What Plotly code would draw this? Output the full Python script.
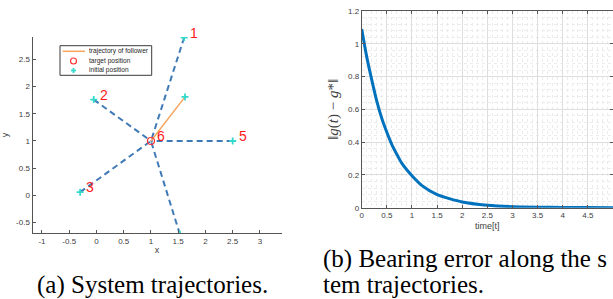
import plotly.graph_objects as go

W, H = 613, 299

# ---- data: left panel (system trajectories)
agent_ids = ["1", "2", "3", "4", "5"]
agent_x = [1.61, -0.05, -0.30, 1.53, 2.50]
agent_y = [2.90, 1.76, 0.06, -0.71, 1.00]
target_id = "6"
target_x = [1.0]
target_y = [1.0]
follower_x = [1.625, 1.0]
follower_y = [1.81, 1.0]

# ---- data: right panel (bearing error)
time_t = [0, 0.1, 0.2, 0.3, 0.4, 0.5, 0.6, 0.7, 0.8, 1.0, 1.2, 1.5, 2.0, 2.5, 3.0, 3.5, 4.0, 4.5, 5.0]
bearing_err = [1.09, 0.92, 0.78, 0.65, 0.545, 0.46, 0.385, 0.325, 0.27, 0.195, 0.135, 0.08, 0.035, 0.015, 0.006, 0.003, 0.0015, 0.0008, 0.0004]

left_xticks = [-1, -0.5, 0, 0.5, 1, 1.5, 2, 2.5, 3]
left_yticks = [-0.5, 0, 0.5, 1, 1.5, 2, 2.5]
right_xticks = [0, 0.5, 1, 1.5, 2, 2.5, 3, 3.5, 4, 4.5, 5]
right_yticks = [0, 0.2, 0.4, 0.6, 0.8, 1, 1.2]

def lab(v):
    return "%g" % v

fig = go.Figure()

# dashed agent trajectories
dx, dy = [], []
for ax_, ay_ in zip(agent_x, agent_y):
    dx += [ax_, target_x[0], None]
    dy += [ay_, target_y[0], None]
fig.add_trace(go.Scatter(x=dx, y=dy, mode="lines", xaxis="x", yaxis="y",
                         line=dict(color="#3f7ab6", width=2, dash="6px,4px"),
                         showlegend=False, hoverinfo="skip"))
# follower trajectory
fig.add_trace(go.Scatter(x=follower_x, y=follower_y, mode="lines", xaxis="x", yaxis="y",
                         line=dict(color="#f5a55e", width=1.5), showlegend=False))
# target
fig.add_trace(go.Scatter(x=target_x, y=target_y, mode="markers", xaxis="x", yaxis="y",
                         marker=dict(symbol="circle-open", color="#ff3030", size=7, line=dict(width=1.2)),
                         showlegend=False))
# initial positions
fig.add_trace(go.Scatter(x=agent_x + [follower_x[0]], y=agent_y + [follower_y[0]],
                         mode="markers", xaxis="x", yaxis="y",
                         marker=dict(symbol="cross-thin-open", color="#33d9cc", size=5,
                                     line=dict(width=1.8, color="#33d9cc")),
                         showlegend=False))

# bearing error curve
fig.add_trace(go.Scatter(x=time_t, y=bearing_err, mode="lines", xaxis="x2", yaxis="y2",
                         line=dict(color="#0072BD", width=3, shape="spline", smoothing=0.6),
                         showlegend=False))

annotations = []
for i, px, py in zip(agent_ids + [target_id], agent_x + target_x, agent_y + target_y):
    annotations.append(dict(x=px, y=py, xref="x", yref="y", text=i, showarrow=False,
                            xanchor="left", yanchor="middle", xshift=4, yshift=5,
                            font=dict(family="Liberation Sans, Arial", size=14, color="#ff1a1a")))

# captions
capfont = dict(family="Liberation Serif, Times New Roman", size=25, color="black")
annotations.append(dict(x=35 / W, y=1 - 293 / H, xref="paper", yref="paper", xanchor="left",
                        yanchor="bottom", yshift=-8, showarrow=False,
                        text="(a) System trajectories.", font=capfont))
annotations.append(dict(x=321 / W, y=1 - 267 / H, xref="paper", yref="paper", xanchor="left",
                        yanchor="bottom", yshift=-8, showarrow=False,
                        text="(b) Bearing error along the s", font=capfont))
annotations.append(dict(x=321 / W, y=1 - 292 / H, xref="paper", yref="paper", xanchor="left",
                        yanchor="bottom", yshift=-8, showarrow=False,
                        text="tem trajectories.", font=capfont))

# manual legend
lx0, lx1, ly0, ly1 = 60, 151.7, 45.7, 75.3
shapes = [dict(type="rect", xref="paper", yref="paper", x0=lx0 / W, x1=lx1 / W,
               y0=1 - ly1 / H, y1=1 - ly0 / H, line=dict(color="#3a3a3a", width=1),
               fillcolor="white", layer="above")]
rows = [51.3, 61.0, 70.5]
shapes.append(dict(type="line", xref="paper", yref="paper", x0=62.7 / W, x1=85 / W,
                   y0=1 - rows[0] / H, y1=1 - rows[0] / H, line=dict(color="#f5a55e", width=1.5),
                   layer="above"))
shapes.append(dict(type="circle", xref="paper", yref="paper", x0=70.5 / W, x1=76.5 / W,
                   y0=1 - (rows[1] + 3) / H, y1=1 - (rows[1] - 3) / H,
                   line=dict(color="#ff3030", width=1.2), layer="above"))
shapes.append(dict(type="line", xref="paper", yref="paper", x0=71 / W, x1=76 / W,
                   y0=1 - rows[2] / H, y1=1 - rows[2] / H, line=dict(color="#33d9cc", width=1.8),
                   layer="above"))
shapes.append(dict(type="line", xref="paper", yref="paper", x0=73.5 / W, x1=73.5 / W,
                   y0=1 - (rows[2] + 2.5) / H, y1=1 - (rows[2] - 2.5) / H,
                   line=dict(color="#33d9cc", width=1.8), layer="above"))
for r, t in zip(rows, ["trajectory of follower", "target position", "initial position"]):
    annotations.append(dict(x=87 / W, y=1 - r / H, xref="paper", yref="paper", xanchor="left",
                            yanchor="middle", showarrow=False, text=t,
                            font=dict(family="Liberation Sans, Arial", size=6.6, color="#262626")))

tickfont = dict(family="Liberation Sans, Arial", size=8, color="#404040")
axcol = "#555555"

fig.update_layout(
    width=W, height=H,
    margin=dict(l=0, r=0, t=0, b=0, autoexpand=False),
    paper_bgcolor="white", plot_bgcolor="white",
    showlegend=False,
    annotations=annotations,
    shapes=shapes,
    xaxis=dict(domain=[32.5 / W, 281.7 / W], range=[-1.174, 3.4], anchor="y", automargin=False,
               tickvals=left_xticks, ticktext=[lab(v) for v in left_xticks],
               ticks="inside", ticklen=3, tickcolor=axcol, showline=True, linecolor=axcol,
               linewidth=1, showgrid=False, zeroline=False, tickfont=tickfont,
               title=dict(text="x", font=dict(family="Liberation Sans, Arial", size=9, color="#404040"),
                          standoff=2)),
    yaxis=dict(domain=[1 - 233 / H, 1 - 37 / H], range=[-0.69, 2.91], anchor="x", automargin=False,
               tickvals=left_yticks, ticktext=[lab(v) for v in left_yticks],
               ticks="inside", ticklen=3, tickcolor=axcol, showline=True, linecolor=axcol,
               linewidth=1, showgrid=False, zeroline=False, tickfont=tickfont,
               title=dict(text="y", font=dict(family="Liberation Sans, Arial", size=9, color="#404040"),
                          standoff=6)),
    xaxis2=dict(domain=[361.7 / W, 1.0], range=[0, 5], anchor="y2", automargin=False,
                tickvals=right_xticks, ticktext=[lab(v) for v in right_xticks],
                ticks="inside", ticklen=3, tickcolor=axcol, showline=True, linecolor=axcol,
                linewidth=1, mirror="ticks", showgrid=True, gridcolor="#dedede", gridwidth=0.6,
                minor=dict(dtick=0.1, showgrid=True, gridcolor="#ececec", griddash="dot", gridwidth=0.6),
                zeroline=False, tickfont=tickfont,
                title=dict(text="time[t]", font=dict(family="Liberation Sans, Arial", size=9, color="#404040"),
                           standoff=3)),
    yaxis2=dict(domain=[1 - 207.7 / H, 1 - 11 / H], range=[0, 1.2], anchor="x2", automargin=False,
                tickvals=right_yticks, ticktext=[lab(v) for v in right_yticks],
                ticks="inside", ticklen=3, tickcolor=axcol, showline=True, linecolor=axcol,
                linewidth=1, mirror="ticks", showgrid=True, gridcolor="#dedede", gridwidth=0.6,
                minor=dict(dtick=0.04, showgrid=True, gridcolor="#ececec", griddash="dot", gridwidth=0.6),
                zeroline=False, tickfont=tickfont,
                title=dict(text="\u2016<i>g</i>(<i>t</i>) \u2212 <i>g</i>*\u2016",
                           font=dict(family="Liberation Serif, Times New Roman", size=15, color="#404040"),
                           standoff=5)),
)

fig.write_html("out.html", config={"displayModeBar": False},
               post_script="document.body.style.margin='0';document.body.style.padding='0';document.body.style.overflow='hidden';")
